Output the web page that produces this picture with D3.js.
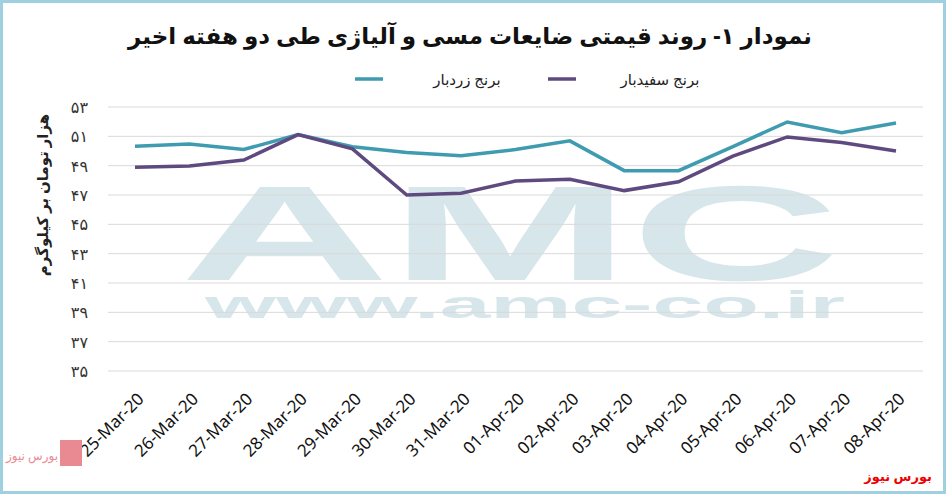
<!DOCTYPE html>
<html><head><meta charset="utf-8">
<script src="https://cdn.jsdelivr.net/npm/d3@7"></script>
<style>body{margin:0;background:#fff}svg{display:block;font-family:"Noto Sans","DejaVu Sans",sans-serif}</style>
</head><body><div id="chart"></div>
<script>
const dates = ["25-Mar-20","26-Mar-20","27-Mar-20","28-Mar-20","29-Mar-20","30-Mar-20","31-Mar-20","01-Apr-20","02-Apr-20","03-Apr-20","04-Apr-20","05-Apr-20","06-Apr-20","07-Apr-20","08-Apr-20"]
const zardbar = [50.33,50.47,50.1,51.12,50.29,49.9,49.67,50.1,50.69,48.66,48.66,50.3,51.98,51.24,51.91]
const sefidbar = [48.9,48.97,49.38,51.12,50.15,47.0,47.12,47.95,48.07,47.3,47.9,49.65,50.96,50.58,50.0]
const yTicks = [35,37,39,41,43,45,47,49,51,53]

const width = 946, height = 494
const svg = d3.select("#chart").append("svg").attr("width", width).attr("height", height)

// frame
svg.append("rect").attr("x", 1.5).attr("y", 1.5).attr("width", width - 3).attr("height", height - 3)
  .attr("fill", "#fff").attr("stroke", "#9fd0df").attr("stroke-width", 3)

const x = d3.scalePoint().domain(dates).range([135, 896])
const y = d3.scaleLinear().domain([35, 53]).range([371, 107])

// watermark
svg.append("text").attr("x", 510).attr("y", 280).attr("text-anchor", "middle")
  .attr("font-family", "Liberation Sans, Arial").attr("font-weight", "900").attr("font-size", 135)
  .attr("fill", "#d6e6ea").attr("textLength", 660).attr("lengthAdjust", "spacingAndGlyphs").text("AMC")
svg.append("text").attr("x", 525).attr("y", 318).attr("text-anchor", "middle")
  .attr("font-family", "Liberation Sans, Arial").attr("font-weight", "900").attr("font-size", 38)
  .attr("fill", "#d6e6ea").attr("textLength", 640).attr("lengthAdjust", "spacingAndGlyphs").text("www.amc-co.ir")

// grid
svg.append("g").selectAll("line").data(yTicks).join("line")
  .attr("x1", 108).attr("x2", 923).attr("y1", d => y(d)).attr("y2", d => y(d))
  .attr("stroke", "#d9d9d9").attr("stroke-width", 1)

const fa = n => String(n).replace(/\d/g, c => "۰۱۲۳۴۵۶۷۸۹"[c])
svg.append("g").selectAll("text").data(yTicks).join("text")
  .attr("x", 88).attr("y", d => y(d) + 6).attr("text-anchor", "end")
  .attr("font-size", 16).attr("fill", "#333").text(d => fa(d))

svg.append("text").attr("transform", "translate(48,195)rotate(-90)").attr("text-anchor", "middle")
  .attr("font-size", 15).attr("font-weight", "bold").attr("fill", "#222").text("هزار تومان بر کیلوگرم")

// x labels
svg.append("g").selectAll("text").data(dates).join("text")
  .attr("transform", d => "translate(" + (x(d) + 10) + ",400)rotate(-45)")
  .attr("text-anchor", "end").attr("font-size", 17).attr("fill", "#111").text(d => d)

// lines
const line = d3.line().x((d, i) => x(dates[i])).y(d => y(d))
svg.append("path").datum(zardbar).attr("d", line).attr("fill", "none").attr("stroke", "#3f9bb0").attr("stroke-width", 3.5)
svg.append("path").datum(sefidbar).attr("d", line).attr("fill", "none").attr("stroke", "#5f4a80").attr("stroke-width", 3.5)

// title
svg.append("text").attr("x", 470).attr("y", 44).attr("text-anchor", "middle")
  .attr("font-size", 23).attr("font-weight", "bold").attr("fill", "#111").text("نمودار ۱- روند قیمتی ضایعات مسی و آلیاژی طی دو هفته اخیر")

// legend
const legend = [{name: "برنج زردبار", color: "#3f9bb0", x: 355}, {name: "برنج سفیدبار", color: "#5f4a80", x: 548}]
legend.forEach(l => {
  svg.append("line").attr("x1", l.x).attr("x2", l.x + 28).attr("y1", 79).attr("y2", 79)
    .attr("stroke", l.color).attr("stroke-width", 3.5)
  svg.append("text").attr("x", l.x + 112).attr("y", 85).attr("text-anchor", "middle")
    .attr("font-size", 15).attr("fill", "#222").text(l.name)
})

// source
svg.append("text").attr("x", 932).attr("y", 481).attr("text-anchor", "end")
  .attr("font-size", 13).attr("font-weight", "bold").attr("fill", "#e00").text("بورس نیوز")
svg.append("rect").attr("x", 60).attr("y", 440).attr("width", 22).attr("height", 26).attr("fill", "#e98a92")
svg.append("text").attr("x", 58).attr("y", 460).attr("text-anchor", "end")
  .attr("font-size", 12).attr("fill", "#e98a92").text("بورس نیوز")
</script></body></html>
